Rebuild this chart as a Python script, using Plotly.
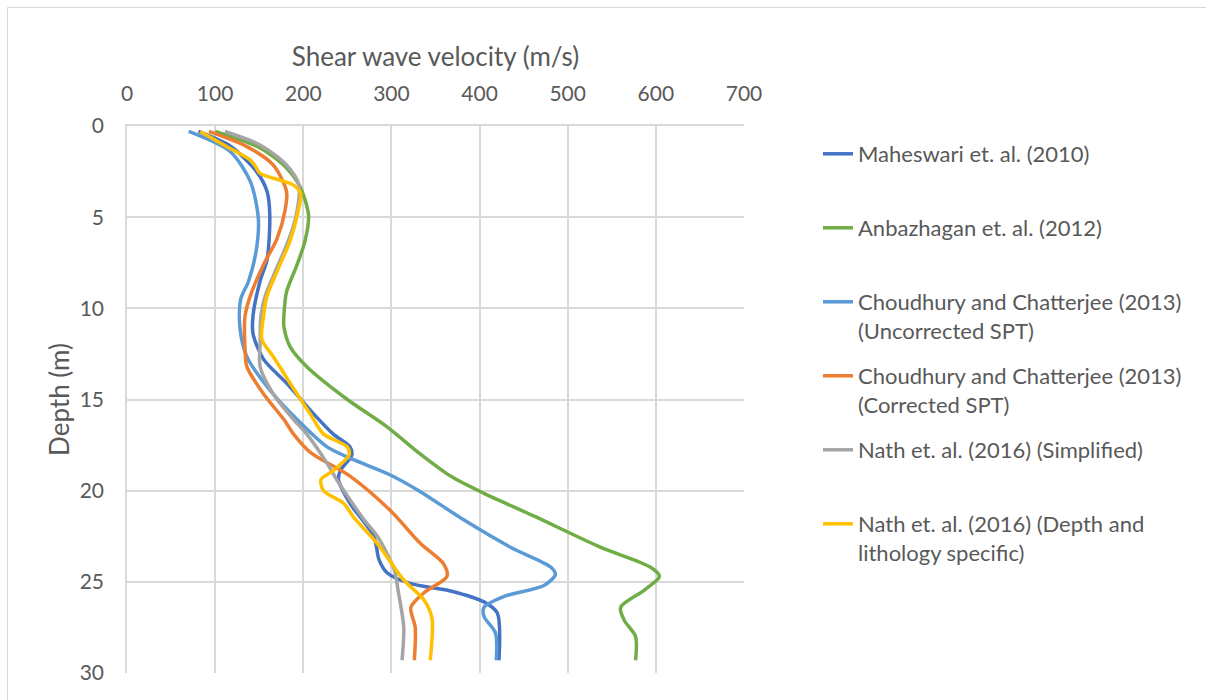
import plotly.graph_objects as go

# Shear wave velocity (m/s) against depth (m) for each correlation
mah_depth = [0.3, 1.1, 2.5, 3.6, 4.9, 7.3, 8.5, 10.4, 11.4, 12.8, 14.1, 15.8, 16.9, 17.6, 18.05,
             18.9, 19.4, 20.7, 22.5, 23.8, 24.5, 25.1, 25.5, 26.1, 26.7, 29.3]
mah_vs = [81, 117, 147, 159, 162, 159, 151, 143, 143, 155, 181, 212, 234, 253, 255,
          242, 240, 253, 280, 286, 295, 322, 367, 405, 420, 422]

anb_depth = [0.3, 1.2, 2.3, 3.4, 4.9, 6.3, 7.6, 9.1, 10.4, 11.0, 12.1, 13.2, 15.0, 16.5, 18.0,
             19.2, 20.15, 21.4, 23.1, 24.2, 24.7, 25.45, 26.4, 27.1, 28.0, 29.3]
anb_vs = [100, 151, 181, 197, 206, 202, 193, 181, 178, 178, 185, 204, 250, 295, 333,
          367, 405, 462, 537, 594, 604, 587, 560, 564, 577, 577]

unc_depth = [0.3, 1.4, 3.05, 5.06, 6.7, 8.5, 9.5, 11.0, 12.65, 14.3, 16.1, 17.6, 18.3, 19.1,
             20.0, 21.6, 23.1, 24.2, 24.6, 25.2, 25.8, 26.4, 26.9, 27.8, 29.3]
unc_vs = [70, 117, 140, 149, 147, 138, 129, 128, 136, 159, 193, 227, 257, 297,
          331, 382, 435, 481, 486, 473, 428, 405, 405, 418, 419]

cor_depth = [0.3, 1.13, 2.14, 3.6, 4.7, 6.2, 7.6, 9.3, 10.4, 12.3, 13.2, 14.7, 16.1, 16.9, 17.9,
             19.2, 21.1, 22.9, 24.0, 24.7, 25.6, 26.4, 27.5, 29.3]
cor_vs = [93, 136, 166, 181, 179, 170, 155, 140, 134, 134, 136, 155, 178, 189, 208,
          253, 299, 333, 359, 363, 337, 322, 327, 326]

sim_depth = [0.3, 1.04, 2.14, 3.24, 4.9, 6.3, 8.0, 9.3, 10.4, 11.9, 13.2, 14.7, 16.1, 16.9,
             18.5, 19.4, 20.5, 21.6, 22.5, 24.3, 25.6, 27.5, 29.3]
sim_vs = [111, 151, 181, 195, 192, 183, 168, 157, 152, 151, 151, 166, 189, 204,
          227, 238, 253, 269, 284, 303, 308, 314, 312]

lit_depth = [0.3, 1.13, 1.87, 2.23, 2.6, 3.24, 3.7, 4.9, 6.3, 8.0, 9.3, 10.4, 11.7, 12.65, 14.1,
             15.8, 16.9, 17.6, 18.05, 18.9, 19.4, 20.0, 20.7, 21.45, 22.9, 24.9, 26.0, 27.0, 29.3]
lit_vs = [83, 113, 140, 146, 151, 189, 197, 193, 185, 170, 159, 155, 153, 166, 185,
          208, 223, 250, 252, 234, 220, 223, 246, 257, 284, 314, 337, 346, 344]

series_names = [
    "Maheswari et. al. (2010)",
    "Anbazhagan et. al. (2012)",
    "Choudhury and Chatterjee (2013)<br>(Uncorrected SPT)",
    "Choudhury and Chatterjee (2013)<br>(Corrected SPT)",
    "Nath et. al. (2016) (Simplified)",
    "Nath et. al. (2016) (Depth and<br>lithology specific)",
]
series_colors = ["#4472C4", "#70AD47", "#5B9BD5", "#ED7D31", "#A5A5A5", "#FFC000"]
series_data = [
    (mah_vs, mah_depth), (anb_vs, anb_depth), (unc_vs, unc_depth),
    (cor_vs, cor_depth), (sim_vs, sim_depth), (lit_vs, lit_depth),
]

x_ticks = [0, 100, 200, 300, 400, 500, 600, 700]
y_ticks = [0, 5, 10, 15, 20, 25, 30]

FONT = "Lato"
TEXT = "#595959"
GRID = "#D9D9D9"
LEGEND_SIZE = 22

W, H = 1206, 700
L, R, T, B = 127, 462, 126, 27
pw, ph = W - L - R, H - T - B


def px_x(p):
    return (p - L) / pw


def px_y(p):
    return (H - B - p) / ph


fig = go.Figure()
for i, (name, color, (vs, depth)) in enumerate(zip(series_names, series_colors, series_data)):
    # every legend entry takes two text lines so the rows are evenly spaced
    label = name if "<br>" in name else name + "<br>\u00a0"
    fig.add_trace(go.Scatter(
        x=vs, y=depth, mode="lines", name=label, legendgroup=f"g{i}",
        line=dict(color=color, width=3.5, shape="spline", smoothing=0.8),
    ))

axis_common = dict(
    showgrid=True, gridcolor=GRID, gridwidth=1.5,
    showline=True, linecolor=GRID, linewidth=1.5,
    zeroline=False, ticks="",
    tickfont=dict(family=FONT, size=21, color=TEXT),
    title_font=dict(family=FONT, size=26, color=TEXT),
)

fig.update_xaxes(
    range=[0, 700], tickvals=x_ticks, side="top", mirror=False,
    title_text="Shear wave velocity (m/s)", title_standoff=6,
    ticklabelstandoff=15, **axis_common,
)
fig.update_yaxes(
    range=[30, 0], tickvals=y_ticks,
    title_text="Depth (m)", title_standoff=3,
    ticklabelstandoff=17, **axis_common,
)

# outer chart frame
fig.add_shape(type="rect", xref="paper", yref="paper",
              x0=px_x(7.5), x1=px_x(1215), y0=px_y(715), y1=px_y(7.5),
              line=dict(color=GRID, width=1), fillcolor="rgba(0,0,0,0)", layer="below")

item_h = 2 * LEGEND_SIZE * 1.3 + 3

fig.update_layout(
    width=W, height=H,
    margin=dict(l=L, r=R, t=T, b=B, autoexpand=False),
    paper_bgcolor="white", plot_bgcolor="white",
    font=dict(family=FONT, color=TEXT),
    legend=dict(
        x=px_x(818), y=px_y(133), xanchor="left", yanchor="top",
        font=dict(family=FONT, size=LEGEND_SIZE, color=TEXT),
        traceorder="grouped", tracegroupgap=74 - item_h,
        valign="top", bgcolor="rgba(0,0,0,0)",
    ),
    showlegend=True,
)

fig.write_html("out.html")
